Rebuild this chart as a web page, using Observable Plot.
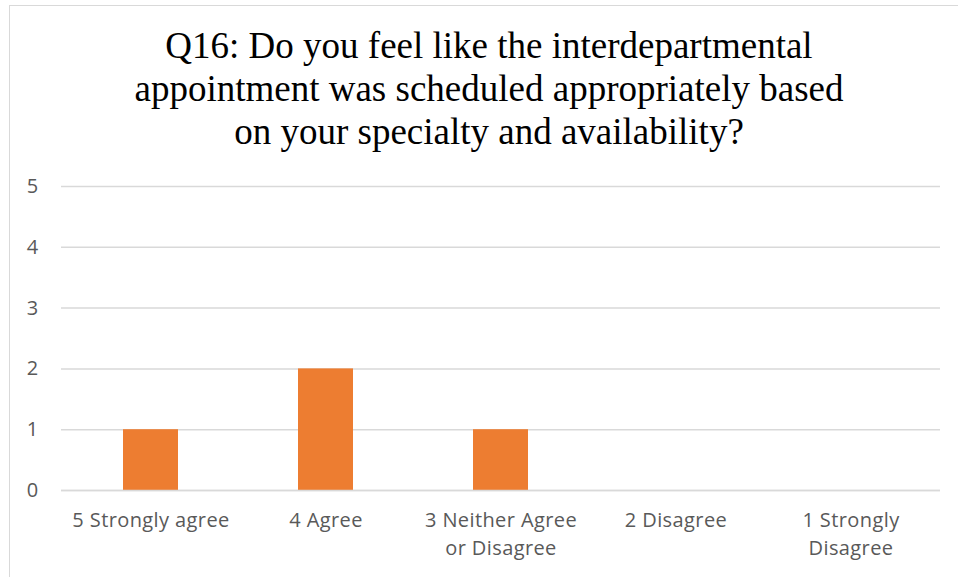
<!DOCTYPE html>
<html>
<head>
<meta charset="utf-8">
<script src="https://cdn.jsdelivr.net/npm/d3@7"></script>
<script src="https://cdn.jsdelivr.net/npm/@observablehq/plot@0.6"></script>
<style>
  html, body { margin: 0; padding: 0; background: #fff; }
  #frame { position: absolute; left: 9px; top: 5px; width: 970px; height: 600px; border: 1.5px solid #d9d9d9; box-sizing: border-box; }
  #wrap { position: absolute; left: 0; top: 0; width: 958px; height: 577px; overflow: hidden; }
  #title { position: absolute; left: 0; top: 0; width: 978px; height: 165px; text-align: center;
           font-family: "Liberation Serif", "Times New Roman", serif; font-size: 37px; line-height: 43px;
           color: #000; padding-top: 24px; box-sizing: border-box; }
  #chart { position: absolute; left: 0; top: 165px; }
  #chart svg text { letter-spacing: 0.4px; }
</style>
</head>
<body>
<div id="wrap">
  <div id="frame"></div>
  <div id="title">Q16: Do you feel like the interdepartmental<br>appointment was scheduled appropriately based<br>on your specialty and availability?</div>
  <div id="chart"></div>
</div>
<script>
const categories = ["5 Strongly agree", "4 Agree", "3 Neither Agree or Disagree", "2 Disagree", "1 Strongly Disagree"];
const tickLabels = ["5 Strongly agree", "4 Agree", "3 Neither Agree\nor Disagree", "2 Disagree", "1 Strongly\nDisagree"];
const counts = [1, 2, 1, 0, 0];
const yTicks = [0, 1, 2, 3, 4, 5];

const data = categories.map((c, i) => ({category: c, count: counts[i]}));
const labelOf = new Map(categories.map((c, i) => [c, tickLabels[i]]));

const chart = Plot.plot({
  width: 958,
  height: 412,
  marginTop: 21,
  marginBottom: 87,
  marginLeft: 61,
  marginRight: 18,
  style: {fontFamily: "'Open Sans', Lato, sans-serif", fontSize: "20px", color: "#595959", background: "transparent"},
  x: {domain: categories, paddingInner: 0.687, paddingOuter: 0.3435, label: null},
  y: {domain: [0, 5], label: null},
  marks: [
    Plot.gridY(yTicks, {stroke: "#d9d9d9", strokeOpacity: 1, strokeWidth: 1.5}),
    Plot.barY(data, {x: "category", y: "count", fill: "#ED7D31"}),
    Plot.ruleY([0], {stroke: "#d9d9d9", strokeWidth: 1.5}),
    Plot.axisY(yTicks, {tickSize: 0, tickPadding: 23, fill: "#595959", fontSize: 20, label: null, tickFormat: d => String(d)}),
    Plot.axisX({tickSize: 0, tickPadding: 17, fill: "#595959", fontSize: 20, lineHeight: 1.4,
                tickFormat: d => labelOf.get(d), label: null, textOverflow: null})
  ]
});
document.getElementById("chart").appendChild(chart);
</script>
</body>
</html>
